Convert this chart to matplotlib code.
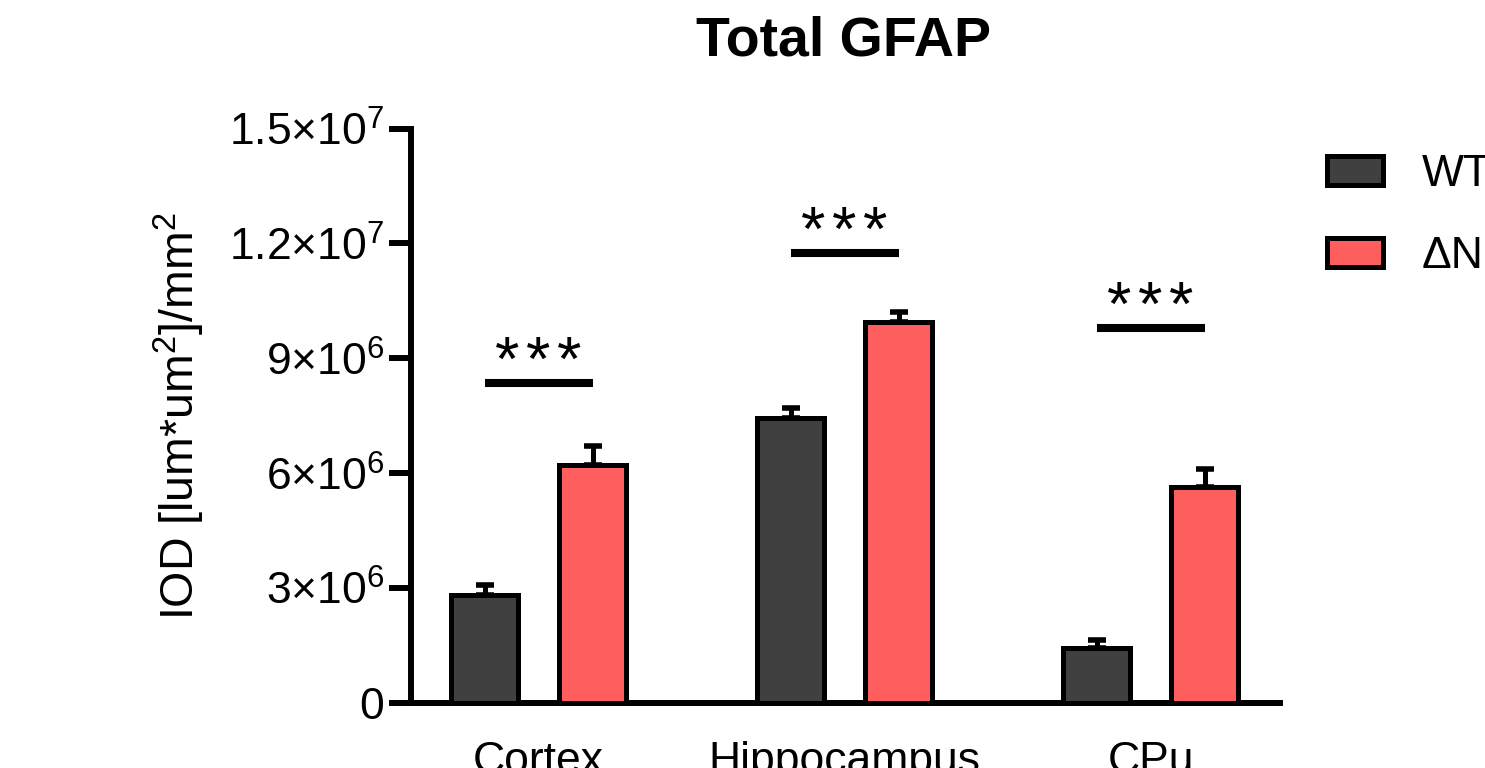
import matplotlib
matplotlib.use("Agg")
import matplotlib.pyplot as plt
import numpy as np

plt.rcParams['font.family'] = ['Liberation Sans', 'DejaVu Sans']
plt.rcParams['mathtext.fontset'] = 'custom'
plt.rcParams['mathtext.rm'] = 'Liberation Sans'
plt.rcParams['mathtext.it'] = 'Liberation Sans:italic'
plt.rcParams['mathtext.bf'] = 'Liberation Sans:bold'

# ---- data ----
categories = ["Cortex", "Hippocampus", "CPu"]
groups = ["WT", "ΔNLS"]
wt_mean = [2.83e6, 7.45e6, 1.43e6]
wt_sem = [0.25e6, 0.25e6, 0.21e6]
dn_mean = [6.22e6, 9.94e6, 5.64e6]
dn_sem = [0.48e6, 0.26e6, 0.46e6]
sig_heights = [8.35e6, 11.75e6, 9.78e6]
sig_labels = ["***", "***", "***"]
yticks = [0, 3e6, 6e6, 9e6, 1.2e7, 1.5e7]
ytick_labels = ["0", "3×$10^{6}$", "6×$10^{6}$", "9×$10^{6}$", "1.2×$10^{7}$", "1.5×$10^{7}$"]
title = "Total GFAP"
ylabel = "IOD [lum*um$^{2}$]/mm$^{2}$"

wt_color = "#404040"
dn_color = "#FF5E5E"

W, H = 1485, 768
fig = plt.figure(figsize=(W / 100, H / 100), dpi=100)
ax = fig.add_axes([411 / W, 1 - 703 / H, (1280 - 411) / W, (703 - 128.5) / H])

x = np.arange(len(categories))
off = 0.1765
bw = 0.219
edge_lw = 3.6

ax.errorbar(x - off, wt_mean, yerr=[np.zeros(3), wt_sem], fmt='none', ecolor='black',
            elinewidth=3.6, capsize=6.2, capthick=4.0, zorder=2)
ax.errorbar(x + off, dn_mean, yerr=[np.zeros(3), dn_sem], fmt='none', ecolor='black',
            elinewidth=3.6, capsize=6.2, capthick=4.0, zorder=2)
b1 = ax.bar(x - off, wt_mean, bw, color=wt_color, edgecolor='black', linewidth=edge_lw,
            label=groups[0], zorder=3)
b2 = ax.bar(x + off, dn_mean, bw, color=dn_color, edgecolor='black', linewidth=edge_lw,
            label=groups[1], zorder=3)

# significance bars
for xi, h, lab in zip(x, sig_heights, sig_labels):
    ax.plot([xi - off, xi + off], [h, h], color='black', lw=5.8, solid_capstyle='butt',
            zorder=4, clip_on=False)
    n = len(lab)
    for k, ch in enumerate(lab):
        dx = (k - (n - 1) / 2) * 22.3
        ax.annotate(ch, xy=(xi, h), xytext=(dx, 2.5), textcoords='offset points',
                    ha='center', va='baseline', fontsize=45, annotation_clip=False)

ax.set_xlim(-0.4167, 2.423)
ax.set_ylim(0, 1.5e7)
ax.set_yticks(yticks)
ax.set_yticklabels(ytick_labels)
ax.set_xticks(x)
ax.set_xticklabels(categories)

for s in ['top', 'right']:
    ax.spines[s].set_visible(False)
for s in ['left', 'bottom']:
    ax.spines[s].set_linewidth(4.3)
    ax.spines[s].set_capstyle('projecting')

ax.tick_params(axis='y', length=15.8, width=4.3, pad=3.5, labelsize=32)
ax.tick_params(axis='x', length=0, pad=27.5, labelsize=32)

ax.set_ylabel(ylabel, fontsize=33.5)
ax.yaxis.set_label_coords(-0.2348, 0.5)

fig.text(843 / W, 1 - 56 / H, title, ha='center', va='baseline', fontsize=40,
         fontweight='bold')

fig.legend(handles=[b1, b2], labels=groups, loc='upper left',
           bbox_to_anchor=(1327 / W, 1 - 154.5 / H), bbox_transform=fig.transFigure,
           frameon=False, fontsize=32, handlelength=1.26, handleheight=0.63,
           handletextpad=0.87, labelspacing=0.92, borderpad=0, borderaxespad=0)

fig.savefig("out.png", dpi=100)
